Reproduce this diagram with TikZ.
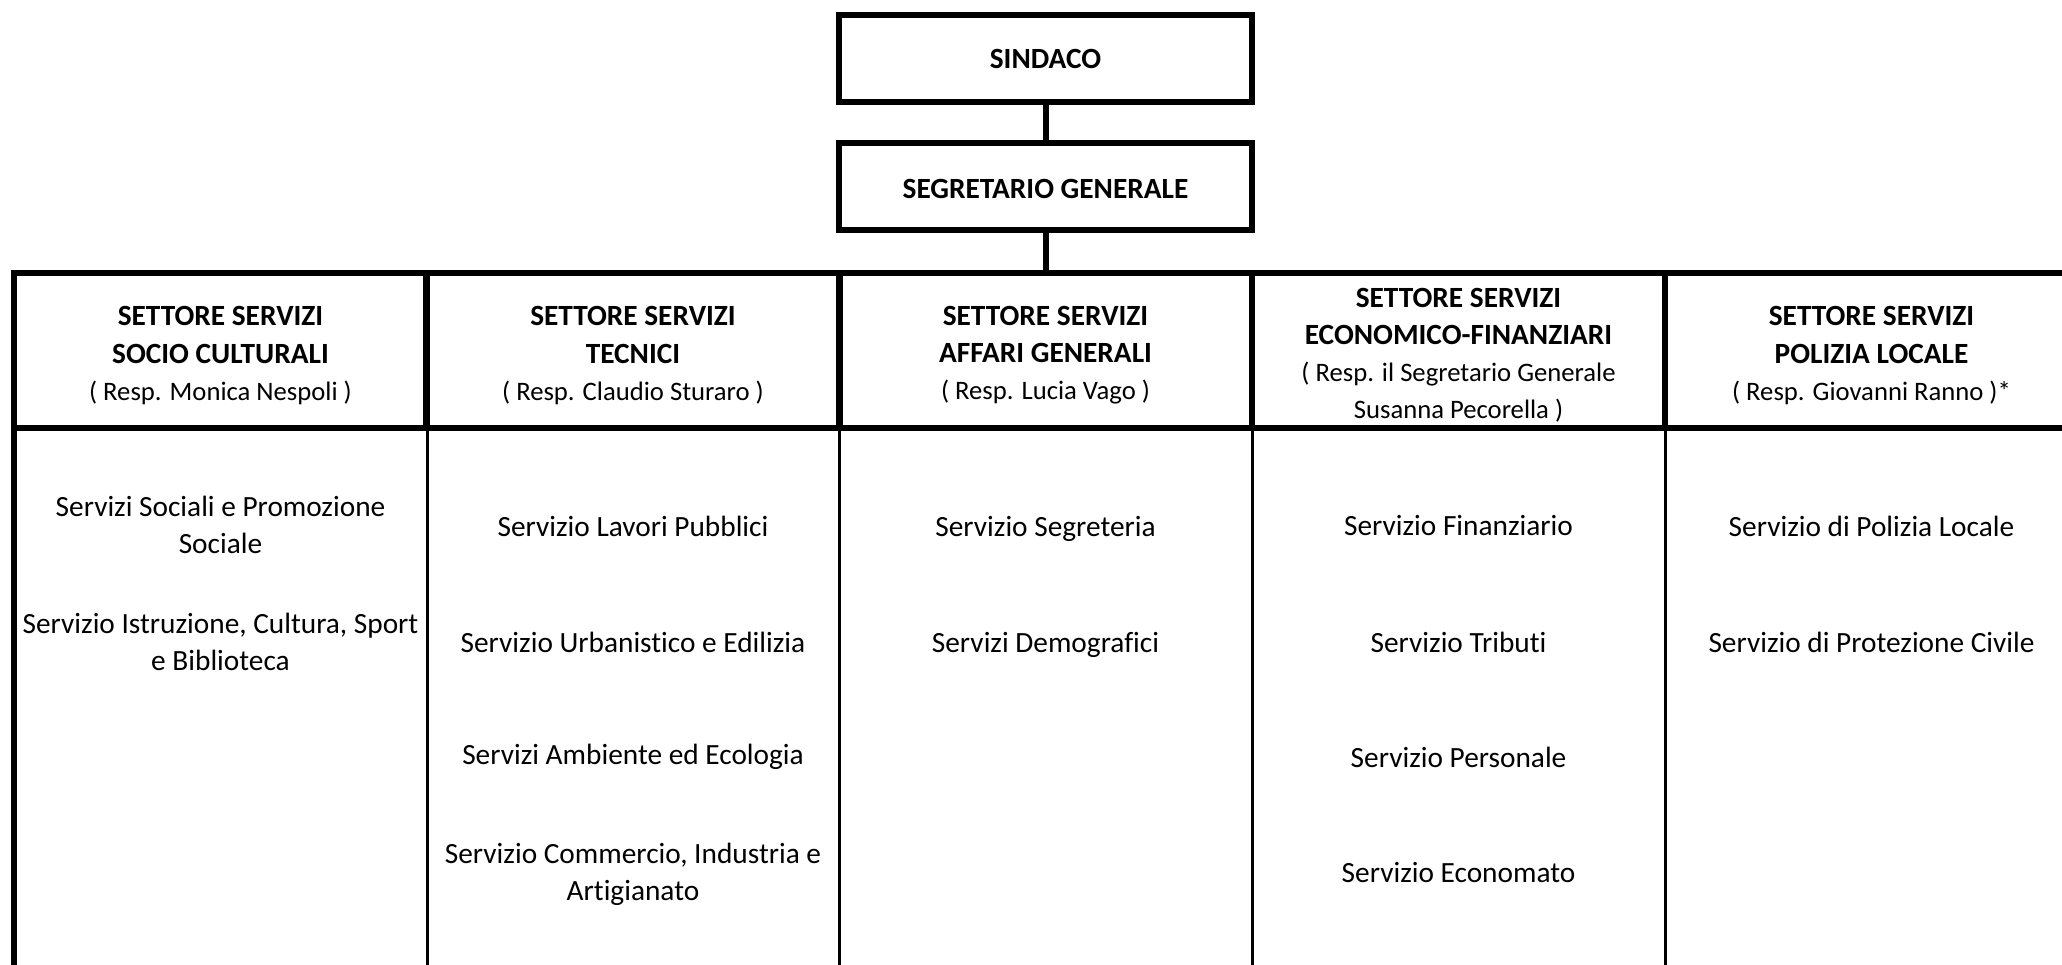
\documentclass[tikz,border=0pt]{standalone}
\usepackage{fontspec}
\setmainfont{Carlito}[Ligatures=NoCommon]
\usetikzlibrary{positioning}
\newcommand{\respfont}{\fontsize{10}{13.9}\selectfont}
\newcommand{\alto}{\rule{0pt}{11pt}}

\begin{document}
\begin{tikzpicture}[x=0.375pt,y=-0.375pt,
	fat/.style={line width=2.25pt},
	slim/.style={line width=1.1pt},
	capo/.style={draw,fat,outer sep=0pt,minimum width=154.9pt,minimum height=32.6pt,font=\bfseries\fontsize{11}{13.9}\selectfont},
	settore/.style={draw,fat,outer sep=0pt,inner ysep=0pt,minimum width=154.9pt,minimum height=58.1pt,align=center,font=\fontsize{11}{13.9}\selectfont},
	servizio/.style={align=center,font=\fontsize{11}{13.9}\selectfont}]
	\useasboundingbox (0,0) rectangle (2062,965);
	\node (sindaco) at (1045.5,58.5)[capo] {SINDACO};
	\node (segretario) at (1045.5,186.5)[capo] {\rule{0pt}{9.2pt}SEGRETARIO GENERALE};
	\node (hsocio) at (220.5,350.5)[settore] {\alto\textbf{SETTORE SERVIZI}\\\textbf{SOCIO CULTURALI}\\{\respfont ( Resp. Monica Nespoli )}};
	\node (htecnici) at (633,350.5)[settore] {\alto\textbf{SETTORE SERVIZI}\\\textbf{TECNICI}\\{\respfont ( Resp. Claudio Sturaro )}};
	\node (haffari) at (1045.5,350.5)[settore] {\alto\textbf{SETTORE SERVIZI}\\\textbf{AFFARI GENERALI}\\{\respfont ( Resp. Lucia Vago )}};
	\node (heconomico) at (1458.5,350.5)[settore] {\alto\textbf{SETTORE SERVIZI}\\\textbf{ECONOMICO-FINANZIARI}\\{\respfont ( Resp. il Segretario Generale}\\{\respfont Susanna Pecorella )}};
	\node (hpolizia) at (1871.5,350.5)[settore] {\alto\textbf{SETTORE SERVIZI}\\\textbf{POLIZIA LOCALE}\\{\respfont ( Resp. Giovanni Ranno )*}};
	\draw[fat] (sindaco)--(segretario);
	\draw[fat] (segretario)--(haffari);
	% colonne
	\draw[fat] (hsocio.south west)--++(0,560);
	\draw[slim] (hsocio.south east)--++(0,560);
	\draw[slim] (htecnici.south east)--++(0,560);
	\draw[slim] (haffari.south east)--++(0,560);
	\draw[slim] (heconomico.south east)--++(0,560);
	% servizi
	\node (sociali) at (220.5,525)[servizio] {Servizi Sociali e Promozione\\Sociale};
	\node (istruzione) at (220.5,641.5)[servizio] {Servizio Istruzione, Cultura, Sport\\e Biblioteca};
	\node (lavori) at (633,526)[servizio] {Servizio Lavori Pubblici};
	\node (urbanistica) at (633,642)[servizio] {Servizio Urbanistico e Edilizia};
	\node (ambiente) at (633,757)[servizio] {Servizi Ambiente ed Ecologia};
	\node (commercio) at (633,874)[servizio] {Servizio Commercio, Industria e\\Artigianato};
	\node (segreteria) at (1045.5,528.5)[servizio] {Servizio Segreteria};
	\node (demografici) at (1045.5,644.5)[servizio] {Servizi Demografici};
	\node (finanziario) at (1458.5,526)[servizio] {Servizio Finanziario};
	\node (tributi) at (1458.5,642)[servizio] {Servizio Tributi};
	\node (personale) at (1458.5,757)[servizio] {Servizio Personale};
	\node (economato) at (1458.5,873)[servizio] {Servizio Economato};
	\node (spolizia) at (1871.5,526)[servizio] {Servizio di Polizia Locale};
	\node (sprotezione) at (1871.5,642)[servizio] {Servizio di Protezione Civile};
\end{tikzpicture}
\end{document}
